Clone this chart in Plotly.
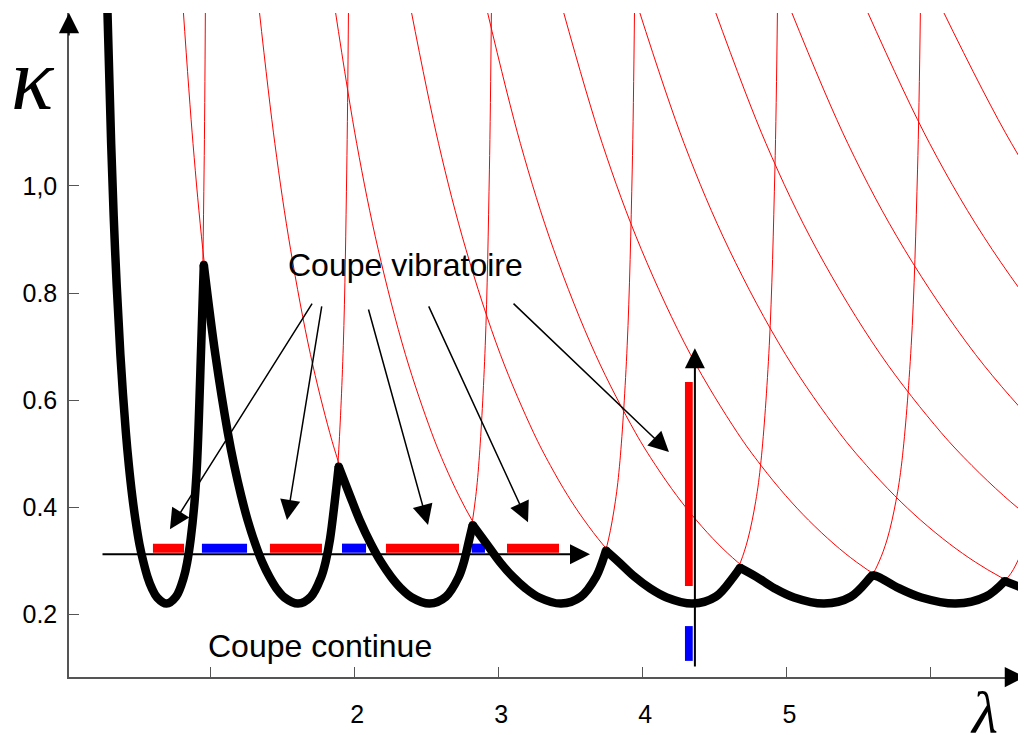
import plotly.graph_objects as go

# kappa le long d'un lobe (même pour tous les lobes), branche droite -> branche gauche
kappa = [1.33, 1.030, 0.7017, 0.4869, 0.4111, 0.3407, 0.2978, 0.270, 0.2329, 0.220, 0.2314, 0.2488,
         0.270, 0.2976, 0.3314, 0.3758, 0.4217, 0.478, 0.540, 0.6854, 0.8818, 1.0795, 1.33]

# lambda de chaque lobe (les derniers lobes ne sont visibles que par leur branche gauche)
lobe_0 = [0.968, 0.959, 0.939, 0.911, 0.893, 0.866, 0.842, 0.819, 0.764, 0.698, 0.633, 0.596,
          0.566, 0.538, 0.510, 0.483, 0.460, 0.437, 0.416, 0.378, 0.341, 0.314, 0.288]
lobe_1 = [1.961, 1.949, 1.925, 1.889, 1.866, 1.833, 1.802, 1.772, 1.700, 1.611, 1.517, 1.460,
          1.412, 1.362, 1.314, 1.261, 1.216, 1.168, 1.123, 1.037, 0.950, 0.882, 0.814]
lobe_2 = [2.953, 2.939, 2.910, 2.867, 2.840, 2.800, 2.762, 2.726, 2.637, 2.524, 2.401, 2.324,
          2.257, 2.187, 2.117, 2.039, 1.971, 1.899, 1.830, 1.697, 1.559, 1.450, 1.341]
lobe_3 = [3.946, 3.930, 3.895, 3.845, 3.813, 3.766, 3.722, 3.679, 3.573, 3.437, 3.285, 3.188,
          3.102, 3.012, 2.920, 2.818, 2.727, 2.630, 2.537, 2.356, 2.167, 2.018, 1.868]
lobe_4 = [4.938, 4.920, 4.881, 4.824, 4.787, 4.733, 4.682, 4.633, 4.510, 4.350, 4.169, 4.052,
          3.947, 3.837, 3.723, 3.597, 3.483, 3.362, 3.244, 3.015, 2.776, 2.586, 2.394]
lobe_5 = [5.930, 5.910, 5.866, 5.802, 5.760, 5.700, 5.642, 5.586, 5.447, 5.262, 5.053, 4.916,
          4.792, 4.661, 4.526, 4.375, 4.239, 4.093, 3.951, 3.675, 3.384, 3.154, 2.921]
lobe_6 = [6.923, 6.900, 6.851, 6.780, 6.734, 6.667, 6.602, 6.540, 6.383, 6.175, 5.937, 5.780,
          5.638, 5.486, 5.330, 5.154, 4.995, 4.824, 4.658, 4.334, 3.993, 3.722, 3.448]
lobe_7 = [7.088, 6.821, 6.644, 6.483, 6.311, 6.133, 5.932, 5.751, 5.556, 5.365, 4.994, 4.602, 4.290, 3.975]
lobe_8 = [7.704, 7.508, 7.328, 7.136, 6.936, 6.711, 6.507, 6.287, 6.072, 5.653, 5.210, 4.858, 4.501]
lobe_9 = [7.739, 7.489, 7.263, 7.018, 6.780, 6.312, 5.819, 5.426, 5.028]
lobe_10 = [8.019, 7.750, 7.487, 6.972, 6.427, 5.994, 5.555]
lobe_11 = [8.194, 7.631, 7.036, 6.562, 6.081]
lobe_12 = [8.291, 7.645, 7.130, 6.608]

# limite de stabilité (enveloppe), un morceau entre deux pointes
env_0_lam = [0.288, 0.314, 0.341, 0.378, 0.416, 0.437, 0.460, 0.483, 0.510, 0.538, 0.566, 0.596,
             0.633, 0.698, 0.764, 0.819, 0.842, 0.866, 0.893, 0.911, 0.939, 0.957]
env_0_kap = [1.33, 1.0795, 0.8818, 0.6854, 0.540, 0.478, 0.4217, 0.3758, 0.3314, 0.2976, 0.270, 0.2488,
             0.2314, 0.220, 0.2329, 0.270, 0.2978, 0.3407, 0.4111, 0.4869, 0.7017, 0.853]
env_1_lam = [0.957, 1.037, 1.123, 1.168, 1.216, 1.261, 1.314, 1.362, 1.412, 1.460, 1.517, 1.611,
             1.700, 1.772, 1.802, 1.833, 1.866, 1.893]
env_1_kap = [0.853, 0.6854, 0.540, 0.478, 0.4217, 0.3758, 0.3314, 0.2976, 0.270, 0.2488, 0.2314, 0.220,
             0.2329, 0.270, 0.2978, 0.3407, 0.4111, 0.476]
env_2_lam = [1.893, 1.971, 2.039, 2.117, 2.187, 2.257, 2.324, 2.401, 2.524, 2.637, 2.726, 2.762, 2.800, 2.823]
env_2_kap = [0.476, 0.4217, 0.3758, 0.3314, 0.2976, 0.270, 0.2488, 0.2314, 0.220, 0.2329, 0.270, 0.2978, 0.3407, 0.367]
env_3_lam = [2.823, 2.920, 3.012, 3.102, 3.188, 3.285, 3.437, 3.573, 3.679, 3.722, 3.748]
env_3_kap = [0.367, 0.3314, 0.2976, 0.270, 0.2488, 0.2314, 0.220, 0.2329, 0.270, 0.2978, 0.319]
env_4_lam = [3.748, 3.837, 3.947, 4.052, 4.169, 4.350, 4.510, 4.633, 4.678]
env_4_kap = [0.319, 0.2976, 0.270, 0.2488, 0.2314, 0.220, 0.2329, 0.270, 0.287]
env_5_lam = [4.678, 4.792, 4.916, 5.053, 5.262, 5.447, 5.586, 5.598]
env_5_kap = [0.287, 0.270, 0.2488, 0.2314, 0.220, 0.2329, 0.270, 0.273]
env_6_lam = [5.598, 5.638, 5.780, 5.937, 6.175, 6.383, 6.515]
env_6_kap = [0.273, 0.270, 0.2488, 0.2314, 0.220, 0.2329, 0.262]
env_7_lam = [6.515, 6.644, 6.821]
env_7_kap = [0.262, 0.2488, 0.2314]

# coupe à kappa constant : segments instables (rouge) / stables (bleu)
cut_kappa = 0.312
red_start = [0.604, 1.416, 2.221, 3.061]
red_end = [0.820, 1.777, 2.728, 3.422]
blue_start = [0.944, 1.916, 2.816]
blue_end = [1.257, 2.083, 2.908]
bar_low, bar_high = 0.315, 0.332

# coupe à lambda constant
vcut_lambda = 4.365
vred = [0.253, 0.634]
vblue = [0.113, 0.178]
vbar_left, vbar_right = 4.296, 4.350

# flèches depuis "Coupe vibratoire" : queue et pointe
arrow_tail_lam = [1.715, 1.777, 2.097, 2.513, 3.096]
arrow_tail_kap = [0.783, 0.778, 0.772, 0.778, 0.783]
arrow_tip_lam = [0.722, 1.534, 2.513, 3.207, 4.185]
arrow_tip_kap = [0.359, 0.376, 0.367, 0.372, 0.503]

x_ticks = [1, 2, 3, 4, 5, 6]
x_labels = ['', '2', '3', '4', '5', '']
y_ticks = [0.2, 0.4, 0.6, 0.8, 1.0]
y_labels = ['0.2', '0.4', '0.6', '0.8', '1,0']

SANS = 'Liberation Sans, Arial, sans-serif'
SERIF = 'Liberation Serif, Times New Roman, serif'

fig = go.Figure()

# lobes (fins, rouges)
for lam in [lobe_0, lobe_1, lobe_2, lobe_3, lobe_4, lobe_5, lobe_6,
            lobe_7, lobe_8, lobe_9, lobe_10, lobe_11, lobe_12]:
    fig.add_trace(go.Scatter(x=lam, y=kappa[-len(lam):], mode='lines',
                             line=dict(color='#ff0000', width=1, shape='spline'),
                             hoverinfo='skip', showlegend=False))

# enveloppe (épaisse, noire)
segments = [(env_0_lam, env_0_kap), (env_1_lam, env_1_kap), (env_2_lam, env_2_kap),
            (env_3_lam, env_3_kap), (env_4_lam, env_4_kap), (env_5_lam, env_5_kap),
            (env_6_lam, env_6_kap), (env_7_lam, env_7_kap)]
for lam, kap in segments:
    fig.add_trace(go.Scatter(x=lam, y=kap, mode='lines',
                             line=dict(color='black', width=8.5, shape='spline'),
                             hoverinfo='skip', showlegend=False))
# pointes (pour boucher les raccords)
fig.add_trace(go.Scatter(x=[s[0][-1] for s in segments[:-1]], y=[s[1][-1] for s in segments[:-1]],
                         mode='markers', marker=dict(color='black', size=8),
                         hoverinfo='skip', showlegend=False))

shapes = []
for a, b in zip(red_start, red_end):
    shapes.append(dict(type='rect', xref='x', yref='y', x0=a, x1=b, y0=bar_low, y1=bar_high,
                       fillcolor='#ff0000', line=dict(width=0), layer='below'))
for a, b in zip(blue_start, blue_end):
    shapes.append(dict(type='rect', xref='x', yref='y', x0=a, x1=b, y0=bar_low, y1=bar_high,
                       fillcolor='#0000ff', line=dict(width=0), layer='below'))
shapes.append(dict(type='rect', xref='x', yref='y', x0=vbar_left, x1=vbar_right, y0=vred[0], y1=vred[1],
                   fillcolor='#ff0000', line=dict(width=0), layer='below'))
shapes.append(dict(type='rect', xref='x', yref='y', x0=vbar_left, x1=vbar_right, y0=vblue[0], y1=vblue[1],
                   fillcolor='#0000ff', line=dict(width=0), layer='below'))

annotations = []
for tl, tk, hl, hk in zip(arrow_tail_lam, arrow_tail_kap, arrow_tip_lam, arrow_tip_kap):
    annotations.append(dict(x=hl, y=hk, ax=tl, ay=tk, xref='x', yref='y', axref='x', ayref='y',
                            text='', showarrow=True, arrowhead=2, arrowsize=2.7, arrowwidth=1.5,
                            arrowcolor='black', standoff=0))
# flèche horizontale (coupe à kappa constant)
annotations.append(dict(x=3.637, y=cut_kappa, ax=0.2436, ay=cut_kappa, xref='x', yref='y',
                        axref='x', ayref='y', text='', showarrow=True, arrowhead=2, arrowsize=2,
                        arrowwidth=2, arrowcolor='black', standoff=0))
# flèche verticale
annotations.append(dict(x=vcut_lambda, y=0.697, ax=vcut_lambda, ay=0.0998, xref='x', yref='y',
                        axref='x', ayref='y', text='', showarrow=True, arrowhead=2, arrowsize=2,
                        arrowwidth=2, arrowcolor='black', standoff=0))
# flèches des axes
annotations.append(dict(x=0, y=1.0, xref='paper', yref='paper', ax=0, ay=24, text='',
                        showarrow=True, arrowhead=2, arrowsize=2.7, arrowwidth=1.5,
                        arrowcolor='black', standoff=0))
annotations.append(dict(x=1.0094, y=0, xref='paper', yref='paper', ax=-24, ay=0, text='',
                        showarrow=True, arrowhead=2, arrowsize=2.7, arrowwidth=1.5,
                        arrowcolor='black', standoff=0))

# textes
annotations.append(dict(x=2.360, y=0.852, xref='x', yref='y', text='Coupe vibratoire',
                        showarrow=False, font=dict(family=SANS, size=32, color='black')))
annotations.append(dict(x=1.760, y=0.1417, xref='x', yref='y', text='Coupe continue',
                        showarrow=False, font=dict(family=SANS, size=32, color='black')))
annotations.append(dict(x=-0.0381, y=0.900, xref='paper', yref='paper', text='<i>κ</i>',
                        xanchor='center', yanchor='middle',
                        showarrow=False, font=dict(family=SERIF, size=88, color='black')))
annotations.append(dict(x=0.9561, y=-0.0542, xref='paper', yref='paper', text='<i>λ</i>',
                        xanchor='center', yanchor='middle',
                        showarrow=False, font=dict(family=SERIF, size=60, color='black')))

# la page ajoute 8 px de marge : la figure est réduite d'autant
fig.update_layout(
    width=1018, height=727,
    margin=dict(l=61, r=0, t=5, b=58),
    paper_bgcolor='white', plot_bgcolor='white',
    xaxis=dict(range=[0.0215, 6.6627], showgrid=False, zeroline=False,
               showline=True, linecolor='#555', linewidth=1.5,
               ticks='inside', ticklen=10, tickwidth=1.2, tickcolor='#555',
               tickvals=x_ticks, ticktext=x_labels, ticklabelstandoff=14, ticklabelshift=3,
               tickfont=dict(family=SANS, size=25, color='black')),
    yaxis=dict(range=[0.0829, 1.3231], showgrid=False, zeroline=False,
               showline=True, linecolor='#555', linewidth=1.5,
               ticks='inside', ticklen=10, tickwidth=1.2, tickcolor='#555',
               tickvals=y_ticks, ticktext=y_labels, ticklabelstandoff=5,
               tickfont=dict(family=SANS, size=25, color='black')),
    shapes=shapes,
    annotations=annotations,
)

fig.write_html("out.html")
